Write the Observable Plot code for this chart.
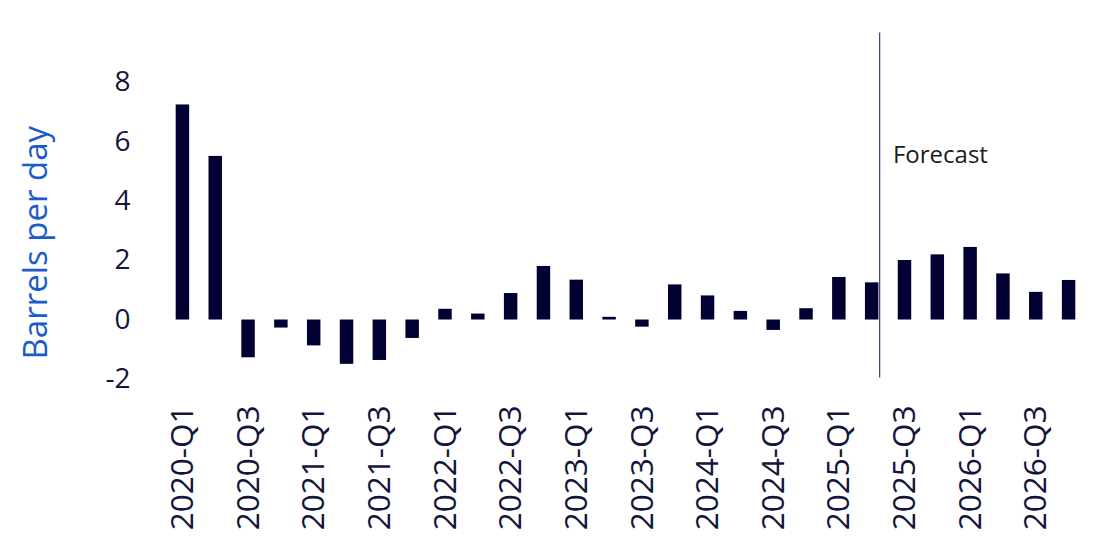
<!DOCTYPE html>
<html><head><meta charset="utf-8">
<script src="https://cdn.jsdelivr.net/npm/d3@7"></script>
<script src="https://cdn.jsdelivr.net/npm/@observablehq/plot@0.6"></script>
<style>body{margin:0;background:#fff}</style>
</head><body><div id="chart"></div>
<script>
const quarters = [
  "2020-Q1","2020-Q2","2020-Q3","2020-Q4",
  "2021-Q1","2021-Q2","2021-Q3","2021-Q4",
  "2022-Q1","2022-Q2","2022-Q3","2022-Q4",
  "2023-Q1","2023-Q2","2023-Q3","2023-Q4",
  "2024-Q1","2024-Q2","2024-Q3","2024-Q4",
  "2025-Q1","2025-Q2","2025-Q3","2025-Q4",
  "2026-Q1","2026-Q2","2026-Q3","2026-Q4"
];
const values = [
  7.23, 5.50, -1.27, -0.27,
  -0.87, -1.49, -1.36, -0.62,
  0.36, 0.20, 0.89, 1.80,
  1.34, 0.09, -0.24, 1.18,
  0.81, 0.29, -0.35, 0.38,
  1.43, 1.25, 2.00, 2.19,
  2.44, 1.55, 0.93, 1.33
];
const tickLabels = [
  "2020-Q1","2020-Q3","2021-Q1","2021-Q3","2022-Q1","2022-Q3","2023-Q1",
  "2023-Q3","2024-Q1","2024-Q3","2025-Q1","2025-Q3","2026-Q1","2026-Q3"
];
const yTicks = [-2, 0, 2, 4, 6, 8];
const lastActual = "2025-Q2";
const firstForecast = "2025-Q3";
const forecastLabel = "Forecast";
const yLabel = "Barrels per day";

const data = quarters.map((q, i) => ({q, v: values[i]}));

const chart = Plot.plot({
  width: 1100, height: 537,
  marginLeft: 166, marginRight: 15, marginTop: 31, marginBottom: 158,
  style: {fontFamily: "'Open Sans', sans-serif", background: "#fff", color: "#14143c"},
  x: {domain: quarters, paddingInner: 0.59, paddingOuter: 0.295, round: false, label: null},
  y: {domain: [-2, 9.7], label: null},
  marks: [
    Plot.barY(data, {x: "q", y: "v", fill: "#000033"}),
    Plot.axisY({ticks: yTicks, tickSize: 0, tickPadding: 36, fontSize: 28, label: null, tickFormat: d => String(d)}),
    Plot.axisX({ticks: tickLabels, tickSize: 0, tickPadding: 26, tickRotate: -90, fontSize: 31.5, label: null}),
    Plot.ruleX([lastActual], {x: d => d, y1: -1.95, y2: 9.65, dx: 7.5, stroke: "#3d3d6b", strokeWidth: 1.2}),
    Plot.text([forecastLabel], {x: () => firstForecast, y: () => 5.55, text: d => d, textAnchor: "start", dx: -12, fontSize: 24, fill: "#1a1a1a"}),
    Plot.text([yLabel], {frameAnchor: "left", y: () => 2.6, text: d => d, textAnchor: "middle", rotate: -90, dx: -130, fontSize: 33, fill: "#1a5cc8"})
  ]
});
document.getElementById("chart").appendChild(chart);
</script>
</body></html>
